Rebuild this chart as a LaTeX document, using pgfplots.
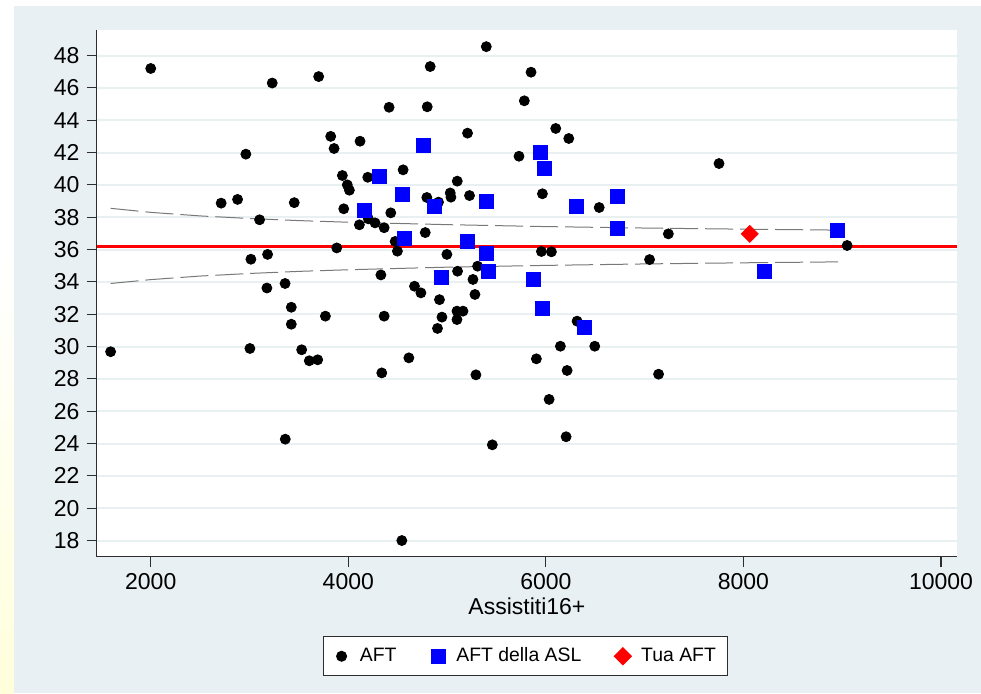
\documentclass[border=0pt]{standalone}
\usepackage{fontspec}
\setmainfont{Liberation Sans}
\usepackage{pgfplots}
\pgfplotsset{compat=1.18}
\definecolor{bgc}{RGB}{232,240,243}
\definecolor{gridc}{RGB}{232,240,242}
\definecolor{axc}{RGB}{45,45,45}
\definecolor{dashc}{RGB}{120,120,120}
\newcommand{\fs}{\fontsize{11.5pt}{13pt}\selectfont}
\newcommand{\fl}{\fontsize{9.7pt}{11.5pt}\selectfont}
\begin{document}
\begin{tikzpicture}
\path[use as bounding box] (-48.25pt,-68.15pt) rectangle (442.25pt,278.35pt);
\fill[white] (-48.25pt,-68.15pt) rectangle (442.25pt,278.35pt);
\shade[top color=white,bottom color=yellow!14] (-48.25pt,-68.15pt) rectangle (-41.25pt,150pt);
\fill[bgc] (-41.25pt,-68.15pt) rectangle (442.25pt,275.5pt);
\fill[white] (0pt,0pt) rectangle (430.4pt,263.35pt);
\begin{axis}[
  at={(0pt,0pt)}, anchor=south west, scale only axis,
  width=430.4pt, height=263.35pt,
  xmin=1451, xmax=10165, ymin=17, ymax=49.58,
  axis x line*=bottom, axis y line*=left,
  axis line style={axc, line width=0.6pt},
  xtick={2000,4000,6000,8000,10000},
  ytick={18,20,...,48},
  tick align=outside, major tick length=5pt,
  tick style={axc, line width=0.6pt},
  ymajorgrids, grid style={gridc, line width=1pt},
  scaled x ticks=false,
  /pgf/number format/assume math mode=true,
  x tick label style={/pgf/number format/1000 sep={}},
  tick label style={font=\fs, text=black},
  xlabel={Assistiti16+},
  every axis x label/.style={at={(axis description cs:0.5,0)}, anchor=center, yshift=-24.6pt, font=\fs},
  legend columns=3,
  legend image code/.code={\path (0pt,0pt) (10pt,0pt); \draw[#1] plot coordinates {(5pt,0pt)};},
  legend style={at={(0.4984,-0.189)}, anchor=center, draw=axc, line width=0.5pt, fill=white, font=\fl,
    inner xsep=3.6pt, inner ysep=3.5pt,
    /tikz/every even column/.append style={column sep=13.5pt},
    /tikz/every odd column/.append style={column sep=1.9pt}},
  legend cell align=left,
]
\addplot[red, line width=1.5pt, forget plot] coordinates {(1451,36.2) (10165,36.2)};
\addplot[dashc, line width=0.5pt, dash pattern=on 14pt off 3.5pt, forget plot] coordinates {
(1594,38.55) (2000,38.30) (2500,38.08) (3000,37.92) (3500,37.79) (4000,37.69) (5000,37.54) (6000,37.42) (7000,37.33) (8000,37.26) (9004,37.20)};
\addplot[dashc, line width=0.5pt, dash pattern=on 14pt off 3.5pt, forget plot] coordinates {
(1594,33.90) (2000,34.14) (2500,34.36) (3000,34.52) (3500,34.65) (4000,34.75) (5000,34.91) (6000,35.02) (7000,35.11) (8000,35.18) (9004,35.24)};
\addplot[only marks, mark=*, mark size=2.5pt, mark options={fill=black, draw=black}]
coordinates {
(2000,47.2) (3230,46.3) (3700,46.7) (4413,44.8) (3822,43.0) (4119,42.7) (3856,42.25) (2963,41.9)
(3940,40.58) (4197,40.47) (3990,40.0) (4011,39.67) (2713,38.87) (2879,39.1) (3453,38.9) (3954,38.52)
(4430,38.27) (3102,37.84) (4112,37.53) (4203,37.9) (4271,37.65) (4363,37.35) (4474,36.5) (4497,35.9)
(3883,36.1) (3014,35.4) (3183,35.7) (4330,34.43) (3176,33.62) (3360,33.9)
(5397,48.55) (4829,47.32) (5850,46.97) (4799,44.83) (5782,45.2) (5207,43.2) (6100,43.49) (6232,42.87)
(5728,41.77) (4555,40.93) (5103,40.23) (4795,39.22) (4913,38.93) (5032,39.5) (5039,39.24) (5227,39.34)
(5965,39.45) (6540,38.6) (4779,37.05) (7240,36.97) (4998,35.7) (5955,35.88) (6056,35.86) (7050,35.38)
(5309,34.97) (5106,34.66) (5262,34.15) (4670,33.73) (4735,33.32) (4923,32.9) (5282,33.22)
(4363,31.88) (4948,31.82) (5100,32.19) (5161,32.19) (5100,31.67) (4903,31.12) (6316,31.57) (6147,30.02)
(6495,30.02) (4613,29.3) (5904,29.24) (4339,28.37) (5292,28.25) (6215,28.52) (7141,28.29) (6033,26.73)
(5458,23.92) (6205,24.42) (4542,18.0)
(3423,32.43) (3423,31.38) (3768,31.88) (1594,29.68) (3004,29.88) (3528,29.8) (3605,29.12) (3690,29.18)
(3362,24.27) (7753,41.32) (9050,36.25)
};
\addlegendentry{AFT}
\addplot[only marks, mark=square*, mark size=3.5pt, mark options={fill=blue, draw=blue}]
coordinates {
(4315,40.54) (4160,38.43) (4765,42.43) (5944,42.0) (5988,41.0) (4552,39.42) (4873,38.68) (5400,39.0)
(6310,38.66) (6722,39.26) (4565,36.68) (6725,37.32) (5201,36.48) (5394,35.76) (5414,34.66) (4941,34.27)
(5877,34.15) (5965,32.35) (6391,31.2) (8953,37.18) (8213,34.62)
};
\addlegendentry{AFT della ASL}
\addplot[only marks, mark=square*, mark size=3pt, mark options={fill=red, draw=red, rotate=45}]
coordinates {(8064,36.97)};
\addlegendentry{Tua AFT}
\end{axis}
\end{tikzpicture}
\end{document}
